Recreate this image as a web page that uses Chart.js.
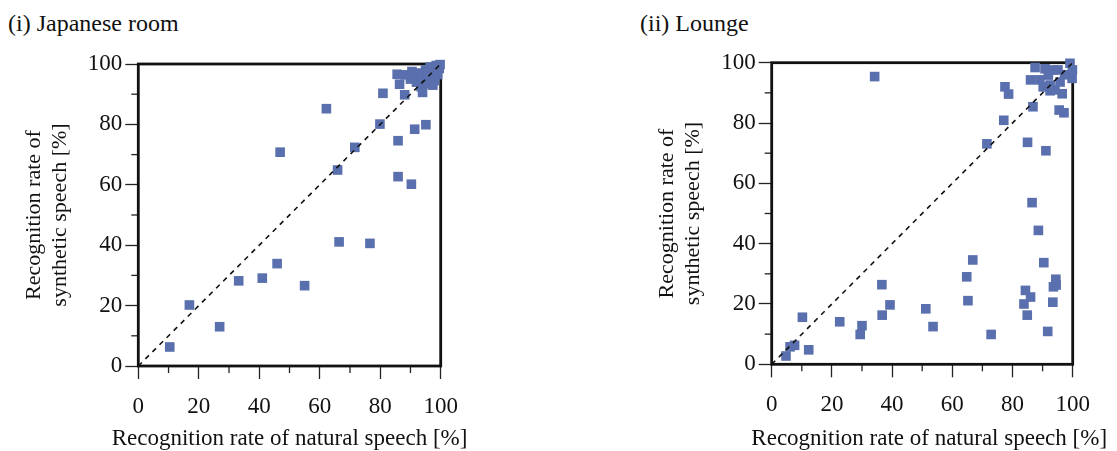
<!DOCTYPE html>
<html>
<head>
<meta charset="utf-8">
<script src="https://cdn.jsdelivr.net/npm/chart.js@4.4.1/dist/chart.umd.min.js"></script>
<style>
  html, body { margin: 0; padding: 0; background: #fff; width: 1117px; height: 451px; overflow: hidden; }
  .panel { position: absolute; top: 0; height: 451px; }
  .ptitle { position: absolute; font-family: "Liberation Serif", serif; font-size: 24px; line-height: 28px; color: #111; white-space: nowrap; }
</style>
</head>
<body>
<div class="ptitle" style="left:8px; top:9px;">(i) Japanese room</div>
<div class="ptitle" style="left:640px; top:9px;">(ii) Lounge</div>
<div class="panel" style="left:0; width:560px;"><canvas id="c1" width="560" height="451"></canvas></div>
<div class="panel" style="left:640px; width:477px;"><canvas id="c2" width="477" height="451"></canvas></div>
<script>
// ---- data ----
const axisTicks = [0, 20, 40, 60, 80, 100];
const xTitle = 'Recognition rate of natural speech [%]';
const yTitle = ['Recognition rate of', 'synthetic speech [%]'];

const roomNatural = [10.4, 16.9, 26.9, 33.2, 41.0, 45.9, 55.0, 66.4, 76.6, 46.9, 62.2, 71.6, 65.9, 79.9, 80.9, 85.9, 85.9, 90.3, 91.4, 95.1,
  85.6, 88.2, 86.4, 88.1, 94.0, 97.4, 98.5, 99.5, 96.5, 95.0, 93.0, 91.0, 90.0, 92.0, 94.0, 96.0, 97.5, 99.0, 98.0, 95.5, 93.5, 97.0, 90.5, 99.8];
const roomSynthetic = [6.3, 20.2, 13.0, 28.2, 29.1, 33.9, 26.6, 41.1, 40.6, 70.8, 85.2, 72.4, 64.9, 80.1, 90.3, 74.6, 62.7, 60.2, 78.4, 79.9,
  96.6, 96.4, 93.3, 89.8, 90.6, 93.0, 99.5, 98.5, 99.0, 98.0, 97.0, 96.5, 95.0, 94.0, 95.5, 96.0, 97.0, 96.5, 94.5, 93.5, 92.5, 93.5, 97.5, 99.8];

const loungeNatural = [4.75, 6.1, 7.6, 12.3, 10.2, 22.6, 29.4, 30.0, 36.6, 36.7, 39.3, 51.2, 53.6, 64.8, 65.2, 66.8, 72.9, 83.8, 84.3, 84.9,
  86.0, 86.5, 88.6, 90.4, 91.7, 93.4, 93.6, 94.4, 94.5, 34.2, 71.5, 77.1, 77.5, 78.7, 85.0, 91.1, 86.8, 86.0, 95.5, 97.1,
  96.5, 90.2, 92.5, 94.1, 87.5, 90.8, 89.1, 92.5, 95.1, 95.8, 99.1, 99.9, 99.8, 93.5, 97.3, 91.9];
const loungeSynthetic = [2.75, 5.8, 6.3, 4.8, 15.6, 14.1, 9.9, 12.8, 26.4, 16.3, 19.7, 18.4, 12.5, 29.0, 21.1, 34.6, 9.9, 20.0, 24.5, 16.3,
  22.3, 53.6, 44.4, 33.7, 10.9, 20.6, 25.7, 28.2, 26.3, 95.4, 73.1, 80.9, 92.0, 89.6, 73.6, 70.8, 85.4, 94.3, 84.3, 83.4,
  89.7, 92.0, 90.7, 91.0, 98.4, 98.0, 94.3, 92.6, 97.6, 93.6, 99.8, 97.6, 94.8, 97.6, 96.0, 95.9];

const diagonal = [0, 100];

// ---- helpers ----
const FONT = '"Liberation Serif", "Times New Roman", serif';
const MARK = '#5a6fad';

function pts(xs, ys) { return xs.map((x, i) => ({ x: x, y: ys[i] })); }

const framePlugin = {
  id: 'frame',
  beforeDatasetsDraw(chart) {
    const ctx = chart.ctx, a = chart.chartArea;
    ctx.save();
    ctx.strokeStyle = '#222';
    ctx.lineWidth = 1.3;
    const xs = chart.scales.x, ys = chart.scales.y;
    for (let i = 0; i < axisTicks.length - 1; i++) {
      const mid = (axisTicks[i] + axisTicks[i + 1]) / 2;
      const px = xs.getPixelForValue(mid);
      ctx.beginPath(); ctx.moveTo(px, a.bottom); ctx.lineTo(px, a.bottom + 7); ctx.stroke();
      const py = ys.getPixelForValue(mid);
      ctx.beginPath(); ctx.moveTo(a.left, py); ctx.lineTo(a.left - 7, py); ctx.stroke();
    }
    ctx.strokeStyle = '#111';
    ctx.lineWidth = 2.8;
    ctx.strokeRect(a.left, a.top, a.right - a.left, a.bottom - a.top);
    ctx.restore();
  },
  afterDraw(chart, args, opts) {
    const ctx = chart.ctx, xs = chart.scales.x;
    ctx.save();
    ctx.font = '23px ' + FONT;
    ctx.fillStyle = '#111';
    ctx.textAlign = 'center';
    ctx.textBaseline = 'middle';
    ctx.fillText(xTitle, (xs.left + xs.right) / 2 + (opts.shift || 0), xs.bottom - 12);
    ctx.restore();
  }
};

function makeChart(id, xs, ys, geo) {
  return new Chart(document.getElementById(id), {
    type: 'scatter',
    data: {
      datasets: [
        {
          type: 'line',
          data: pts(diagonal, diagonal),
          borderColor: '#111',
          borderWidth: 1.6,
          borderDash: [5, 5],
          pointRadius: 0,
          fill: false,
          order: 0,
          clip: false
        },
        {
          data: pts(xs, ys),
          pointStyle: 'rect',
          pointRadius: 6.8,
          pointHoverRadius: 6.8,
          backgroundColor: MARK,
          borderWidth: 0,
          order: 1,
          clip: false
        }
      ]
    },
    options: {
      responsive: false,
      animation: false,
      events: [],
      layout: { padding: { top: geo.top, right: geo.right, left: 0, bottom: 0 } },
      plugins: { legend: { display: false }, tooltip: { enabled: false }, frame: { shift: geo.shift } },
      scales: {
        x: {
          type: 'linear', min: 0, max: 100,
          afterBuildTicks: s => { s.ticks = axisTicks.map(v => ({ value: v })); },
          afterFit: s => { s.height = geo.xh; },
          border: { display: false },
          grid: { drawOnChartArea: false, drawTicks: true, tickLength: 13, tickWidth: 1.3, tickColor: '#222' },
          ticks: { font: { family: FONT, size: 23 }, color: '#111', padding: 14, maxRotation: 0 },
          title: { display: false }
        },
        y: {
          type: 'linear', min: 0, max: 100,
          afterBuildTicks: s => { s.ticks = axisTicks.map(v => ({ value: v })); },
          afterFit: s => { s.width = geo.yw; },
          border: { display: false },
          grid: { drawOnChartArea: false, drawTicks: true, tickLength: 13, tickWidth: 1.3, tickColor: '#222' },
          ticks: { font: { family: FONT, size: 23 }, color: '#111', padding: 3 },
          title: { display: true, text: yTitle, font: { family: FONT, size: 22, lineHeight: 1.15 }, color: '#111', padding: { top: geo.ytp, bottom: 0 } }
        }
      }
    },
    plugins: [framePlugin]
  });
}

makeChart('c1', roomNatural, roomSynthetic, { top: 64, right: 119.3, xh: 85, yw: 138.3, ytp: 22, shift: 0 });
makeChart('c2', loungeNatural, loungeSynthetic, { top: 62.7, right: 44.3, xh: 86.7, yw: 131.7, ytp: 15, shift: 7 });
</script>
</body>
</html>
